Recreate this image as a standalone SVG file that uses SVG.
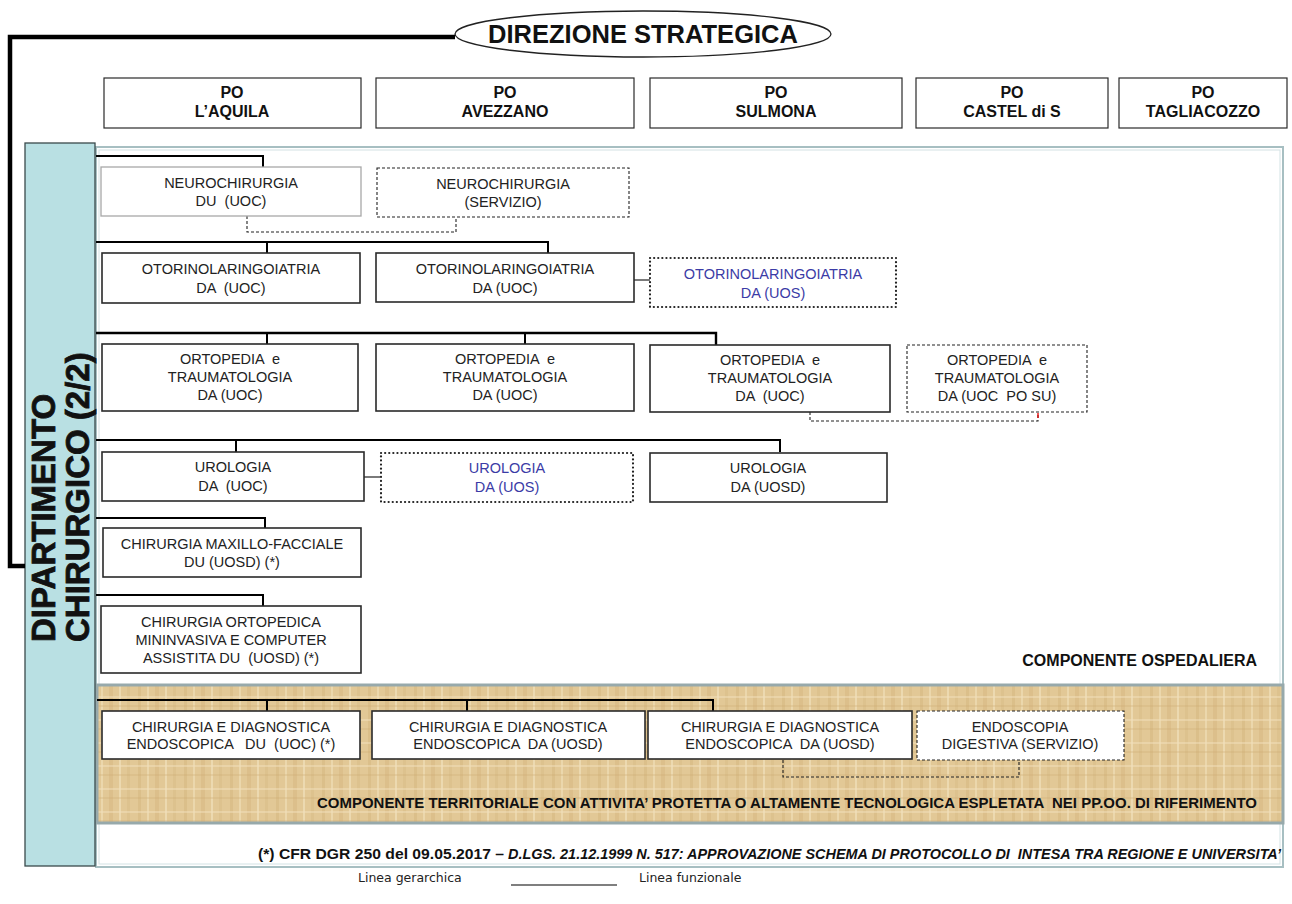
<svg xmlns="http://www.w3.org/2000/svg" width="1292" height="904" viewBox="0 0 1292 904">
<style>
.box{fill:#fff;stroke:#2a2a2a;stroke-width:1.6}
.boxl{fill:#fff;stroke:#a8a8a8;stroke-width:1.3}
.dash{fill:#fff;stroke:#222;stroke-width:1.1;stroke-dasharray:3 2}
.dot{fill:#fff;stroke:#222;stroke-width:2.2;stroke-dasharray:0.1 4;stroke-linecap:round}
.t{font-family:"Liberation Sans",Arial,sans-serif;font-size:14.5px;text-anchor:middle;fill:#222}
.blue{fill:#3b3ba6}
.po{font-family:"Liberation Sans",Arial,sans-serif;font-size:16px;font-weight:bold;text-anchor:middle;fill:#111}
.hier{stroke:#000;stroke-width:2;fill:none}
.func{stroke:#222;stroke-width:1.1;stroke-dasharray:3 2;fill:none}
.bold{font-family:"Liberation Sans",Arial,sans-serif;font-weight:bold;fill:#111}
.dep{font-family:"Liberation Sans",Arial,sans-serif;font-weight:bold;font-size:33px;fill:#111;stroke:#111;stroke-width:0.8}
.leg{font-family:"DejaVu Sans",sans-serif;font-size:12.5px;fill:#222}
</style>
<defs>
<pattern id="papyrus" x="0" y="0" width="46" height="23" patternUnits="userSpaceOnUse">
<rect width="46" height="23" fill="#e2c896"/>
<rect x="0" y="0" width="3" height="23" fill="#d4b57e" opacity="0.5"/>
<rect x="9" y="0" width="2" height="23" fill="#f0deb6" opacity="0.7"/>
<rect x="17" y="0" width="4" height="23" fill="#d2b27a" opacity="0.4"/>
<rect x="27" y="0" width="2" height="23" fill="#f3e4c2" opacity="0.6"/>
<rect x="35" y="0" width="3" height="23" fill="#d8bb86" opacity="0.5"/>
<rect x="0" y="6" width="46" height="2" fill="#f1e0bb" opacity="0.5"/>
<rect x="0" y="15" width="46" height="2" fill="#cdad74" opacity="0.3"/>
</pattern>
</defs>
<rect width="1292" height="904" fill="#fff"/>

<g id="container">
<rect x="96" y="147" width="1187" height="720" fill="#fff" stroke="#a7bfc2" stroke-width="2"/>
<rect x="99" y="150" width="1181" height="714" fill="none" stroke="#d3e2e4" stroke-width="1"/>
<rect x="97" y="685" width="1186" height="138" fill="url(#papyrus)" stroke="#97a9ab" stroke-width="3"/>
<text class="bold" x="1257" y="666" font-size="16" text-anchor="end">COMPONENTE OSPEDALIERA</text>
<text class="bold" x="317" y="808" font-size="14.5" textLength="940" lengthAdjust="spacingAndGlyphs" xml:space="preserve">COMPONENTE TERRITORIALE CON ATTIVITA’ PROTETTA O ALTAMENTE TECNOLOGICA ESPLETATA  NEI PP.OO. DI RIFERIMENTO</text>
<text class="bold" x="258" y="859" font-size="14.5" textLength="246" lengthAdjust="spacingAndGlyphs" xml:space="preserve">(*) CFR DGR 250 del 09.05.2017 –</text>
<text class="bold" x="508" y="859" font-size="14.5" font-style="italic" textLength="773" lengthAdjust="spacingAndGlyphs" xml:space="preserve">D.LGS. 21.12.1999 N. 517: APPROVAZIONE SCHEMA DI PROTOCOLLO DI  INTESA TRA REGIONE E UNIVERSITA’</text>
</g>

<g id="direzione">
<ellipse cx="643" cy="34" rx="188" ry="23" fill="#fff" stroke="#222" stroke-width="1.3"/>
<text class="bold" x="643" y="43" font-size="25.5" text-anchor="middle">DIREZIONE STRATEGICA</text>
</g>

<g id="dipartimento">
<rect x="25" y="143" width="70" height="723" fill="#b9e0e3" stroke="#3a4a4c" stroke-width="1.3"/>
<text class="dep" transform="translate(55,642) rotate(-90)">DIPARTIMENTO</text>
<text class="dep" transform="translate(89,642) rotate(-90)">CHIRURGICO (2/2)</text>
</g>

<g id="po-aquila"><rect class="box" x="104" y="78" width="257" height="50" style="stroke-width:1.2"/><text class="po" x="232" y="98">PO</text><text class="po" x="232" y="117">L’AQUILA</text></g>
<g id="po-avezzano"><rect class="box" x="376" y="78" width="258" height="50" style="stroke-width:1.2"/><text class="po" x="505" y="98">PO</text><text class="po" x="505" y="117">AVEZZANO</text></g>
<g id="po-sulmona"><rect class="box" x="650" y="78" width="252" height="50" style="stroke-width:1.2"/><text class="po" x="776" y="98">PO</text><text class="po" x="776" y="117">SULMONA</text></g>
<g id="po-castel"><rect class="box" x="916" y="78" width="192" height="50" style="stroke-width:1.2"/><text class="po" x="1012" y="98">PO</text><text class="po" x="1012" y="117">CASTEL di S</text></g>
<g id="po-tagliacozzo"><rect class="box" x="1119" y="78" width="168" height="50" style="stroke-width:1.2"/><text class="po" x="1203" y="98">PO</text><text class="po" x="1203" y="117">TAGLIACOZZO</text></g>

<g id="connectors">
<polyline points="455,37 10,37 10,566 25,566" fill="none" stroke="#000" stroke-width="4.5"/>
<polyline class="hier" points="96,156 263,156 263,167"/>
<polyline class="func" points="247,216 247,232 456,232 456,217"/>
<polyline class="hier" points="96,242 548,242 548,253"/>
<line class="hier" x1="267" y1="242" x2="267" y2="253"/>
<line stroke="#222" stroke-width="1.2" x1="634" y1="280" x2="650" y2="280"/>
<polyline class="hier" points="96,333 716,333 716,345" style="stroke-width:2.4"/>
<line class="hier" x1="267" y1="333" x2="267" y2="344"/>
<line class="hier" x1="525" y1="333" x2="525" y2="344"/>
<polyline class="func" points="810,412 810,421 1038,421 1038,413"/>
<line stroke="#e00" stroke-width="1.3" x1="1038" y1="413" x2="1038" y2="418"/>
<polyline class="hier" points="96,440 780,440 780,452"/>
<line class="hier" x1="236" y1="440" x2="236" y2="452"/>
<line stroke="#222" stroke-width="1.2" x1="364" y1="477" x2="380" y2="477"/>
<polyline class="hier" points="96,518 265,518 265,528"/>
<polyline class="hier" points="96,595 263,595 263,606"/>
<polyline class="hier" points="97,700 713,700 713,711"/>
<line class="hier" x1="267" y1="700" x2="267" y2="711"/>
<line class="hier" x1="467" y1="700" x2="467" y2="711"/>
<polyline class="func" points="783,760 783,777 1019,777 1019,760"/>
</g>

<g id="neuro-du"><rect class="boxl" x="101" y="167" width="260" height="49"/><text class="t" x="231" y="188">NEUROCHIRURGIA</text><text class="t" x="231" y="206" xml:space="preserve">DU  (UOC)</text></g>
<g id="neuro-serv"><rect class="dash" x="377" y="168" width="252" height="49"/><text class="t" x="503" y="189">NEUROCHIRURGIA</text><text class="t" x="503" y="207">(SERVIZIO)</text></g>

<g id="oto-1"><rect class="box" x="102" y="253" width="258" height="50"/><text class="t" x="231" y="274">OTORINOLARINGOIATRIA</text><text class="t" x="231" y="293" xml:space="preserve">DA  (UOC)</text></g>
<g id="oto-2"><rect class="box" x="376" y="253" width="258" height="49"/><text class="t" x="505" y="274">OTORINOLARINGOIATRIA</text><text class="t" x="505" y="293">DA (UOC)</text></g>
<g id="oto-uos"><rect class="dot" x="650" y="258" width="246" height="49"/><text class="t blue" x="773" y="279">OTORINOLARINGOIATRIA</text><text class="t blue" x="773" y="298">DA (UOS)</text></g>

<g id="orto-1"><rect class="box" x="102" y="344" width="256" height="67"/><text class="t" x="230" y="364" xml:space="preserve">ORTOPEDIA  e</text><text class="t" x="230" y="382">TRAUMATOLOGIA</text><text class="t" x="230" y="400">DA (UOC)</text></g>
<g id="orto-2"><rect class="box" x="376" y="344" width="258" height="67"/><text class="t" x="505" y="364" xml:space="preserve">ORTOPEDIA  e</text><text class="t" x="505" y="382">TRAUMATOLOGIA</text><text class="t" x="505" y="400">DA (UOC)</text></g>
<g id="orto-3"><rect class="box" x="650" y="345" width="240" height="67"/><text class="t" x="770" y="365" xml:space="preserve">ORTOPEDIA  e</text><text class="t" x="770" y="383">TRAUMATOLOGIA</text><text class="t" x="770" y="401" xml:space="preserve">DA  (UOC)</text></g>
<g id="orto-4"><rect class="dash" x="907" y="345" width="180" height="67"/><text class="t" x="997" y="365" xml:space="preserve">ORTOPEDIA  e</text><text class="t" x="997" y="383">TRAUMATOLOGIA</text><text class="t" x="997" y="401" xml:space="preserve">DA (UOC  PO SU)</text></g>

<g id="uro-1"><rect class="box" x="102" y="452" width="262" height="49"/><text class="t" x="233" y="472">UROLOGIA</text><text class="t" x="233" y="491" xml:space="preserve">DA  (UOC)</text></g>
<g id="uro-uos"><rect class="dot" x="381" y="453" width="252" height="49"/><text class="t blue" x="507" y="473">UROLOGIA</text><text class="t blue" x="507" y="492">DA (UOS)</text></g>
<g id="uro-uosd"><rect class="box" x="650" y="453" width="237" height="49"/><text class="t" x="768" y="473">UROLOGIA</text><text class="t" x="768" y="492">DA (UOSD)</text></g>

<g id="maxillo"><rect class="box" x="103" y="528" width="258" height="49"/><text class="t" x="232" y="549">CHIRURGIA MAXILLO-FACCIALE</text><text class="t" x="232" y="567">DU (UOSD) (*)</text></g>
<g id="computer"><rect class="box" x="101" y="606" width="260" height="67"/><text class="t" x="231" y="627">CHIRURGIA ORTOPEDICA</text><text class="t" x="231" y="645">MININVASIVA E COMPUTER</text><text class="t" x="231" y="663" xml:space="preserve">ASSISTITA DU  (UOSD) (*)</text></g>

<g id="endo-1"><rect class="box" x="102" y="711" width="258" height="48"/><text class="t" x="231" y="732">CHIRURGIA E DIAGNOSTICA</text><text class="t" x="231" y="749" xml:space="preserve">ENDOSCOPICA   DU  (UOC) (*)</text></g>
<g id="endo-2"><rect class="box" x="372" y="711" width="273" height="48"/><text class="t" x="508" y="732">CHIRURGIA E DIAGNOSTICA</text><text class="t" x="508" y="749" xml:space="preserve">ENDOSCOPICA  DA (UOSD)</text></g>
<g id="endo-3"><rect class="box" x="648" y="711" width="264" height="48"/><text class="t" x="780" y="732">CHIRURGIA E DIAGNOSTICA</text><text class="t" x="780" y="749" xml:space="preserve">ENDOSCOPICA  DA (UOSD)</text></g>
<g id="endo-serv"><rect class="dash" x="917" y="711" width="207" height="49"/><text class="t" x="1020" y="732">ENDOSCOPIA</text><text class="t" x="1020" y="749">DIGESTIVA (SERVIZIO)</text></g>

<g id="legend">
<text class="leg" x="358" y="882">Linea gerarchica</text>
<line x1="511" y1="885" x2="617" y2="885" stroke="#000" stroke-width="1.2"/>
<text class="leg" x="639" y="882">Linea funzionale</text>
</g>
</svg>
